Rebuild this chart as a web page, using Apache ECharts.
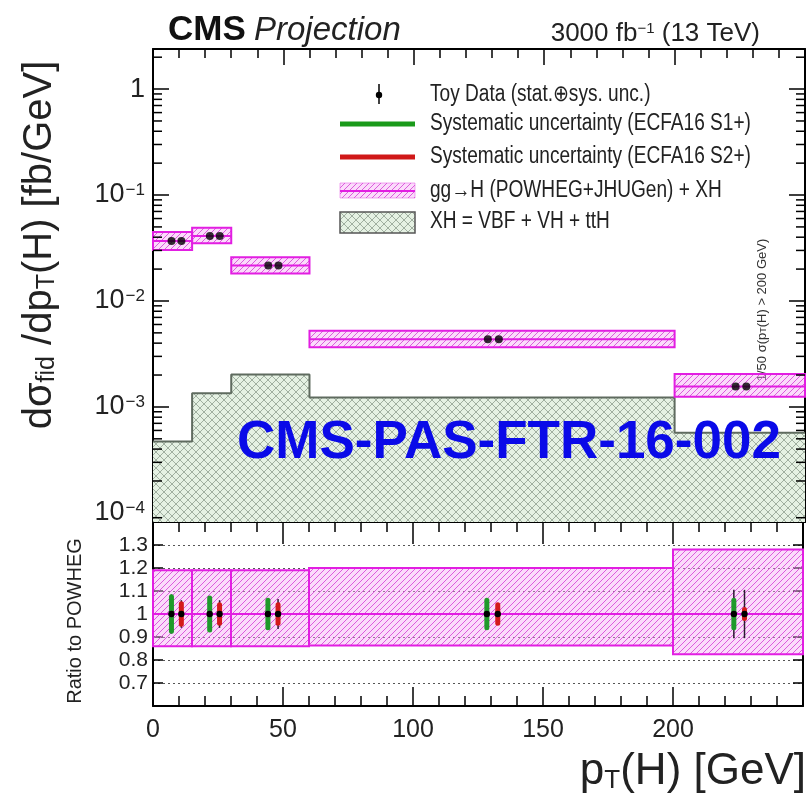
<!DOCTYPE html>
<html><head><meta charset="utf-8">
<script src="https://cdn.jsdelivr.net/npm/echarts@6/dist/echarts.min.js"></script>
<style>html,body{margin:0;padding:0;background:#fff}#c{width:806px;height:801px}</style>
</head><body><div id="c"></div>
<script>
// ---------------- data ----------------
const binEdges   = [0, 15, 30, 60, 200, 250];
const predCentral = [0.0368, 0.0410, 0.0216, 0.00435, 0.00156];
const predUp      = [0.0448, 0.0492, 0.0258, 0.00525, 0.00205];
const predDown    = [0.0303, 0.0350, 0.0182, 0.00366, 0.00125];
const xhValues    = [0.000471, 0.001346, 0.00202, 0.001227, 0.000572];
const s1X = [7.1, 21.8, 44.2, 128.4, 223.4];
const s2X = [10.9, 25.6, 48.1, 132.6, 227.5];
const toyTopS1 = [0.0368, 0.0410, 0.0216, 0.00435, 0.00156];
const toyTopS2 = [0.0368, 0.0410, 0.0216, 0.00435, 0.00156];
const ratioUp   = [1.19, 1.19, 1.19, 1.20, 1.28];
const ratioDown = [0.86, 0.86, 0.86, 0.863, 0.825];
const toyRatioS1 = [1, 1, 1, 1, 1];
const toyRatioS2 = [1, 1, 1, 1, 1];
const s1TotErr = [0.085, 0.075, 0.07, 0.055, 0.105];
const s1SysErr = [0.075, 0.07, 0.06, 0.06, 0.06];
const s2TotErr = [0.06, 0.06, 0.065, 0.045, 0.105];
const s2SysErr = [0.045, 0.04, 0.04, 0.04, 0.02];
const legendLabels = ['Toy Data (stat.\u2295sys. unc.)', 'Systematic uncertainty (ECFA16 S1+)', 'Systematic uncertainty (ECFA16 S2+)', 'gg\u2192H (POWHEG+JHUGen) + XH', 'XH = VBF + VH + ttH'];

// ---------------- styles ----------------
const MAG = '#e21ee2';
function makePattern(bg, line, size, cross, lw) {
  const c = document.createElement('canvas'); c.width = c.height = size;
  const g = c.getContext('2d');
  g.fillStyle = bg; g.fillRect(0, 0, size, size);
  g.strokeStyle = line; g.lineWidth = lw;
  g.beginPath();
  g.moveTo(-1, size + 1); g.lineTo(size + 1, -1);
  g.moveTo(-2, 2); g.lineTo(2, -2);
  g.moveTo(size - 2, size + 2); g.lineTo(size + 2, size - 2);
  if (cross) {
    g.moveTo(-1, -1); g.lineTo(size + 1, size + 1);
    g.moveTo(size - 2, -2); g.lineTo(size + 2, 2);
    g.moveTo(-2, size - 2); g.lineTo(2, size + 2);
  }
  g.stroke();
  return c;
}
const magPat = {image: makePattern('rgba(246,170,246,0.42)', 'rgba(215,70,215,0.85)', 6, false, 1), repeat: 'repeat'};
const xhPat = {image: makePattern('#e5f1e3', '#a0afa0', 8, true, 1), repeat: 'repeat'};

const FONT = "'Liberation Sans', Arial, sans-serif";

const chart = echarts.init(document.getElementById('c'), null, {renderer: 'canvas'});

function xAx(grid, pos, labels, tickLen, minorLen) {
  return {
    type: 'value', gridIndex: grid, position: pos, min: 0, max: 250, interval: 50,
    axisLine: {show: true, onZero: false, lineStyle: {color: '#000', width: 2}},
    axisTick: {show: true, inside: true, length: tickLen, lineStyle: {color: '#000', width: 1.5}},
    minorTick: {show: true, splitNumber: 5, length: minorLen, lineStyle: {color: '#000', width: 1.5}},
    splitLine: {show: false},
    axisLabel: {show: labels, margin: 12, fontSize: 25, color: '#222', fontFamily: FONT,
      formatter: v => (v >= 250 ? '' : String(v))}
  };
}
const logLabel = v => {
  const l = Math.log10(v), n = Math.round(l);
  if (Math.abs(l - n) > 1e-6) return '';
  if (n === 0) return '1';
  return '10{sup|\u2212' + (-n) + '}';
};
function yLog(pos, labels) {
  return {
    type: 'log', logBase: 10, gridIndex: 0, position: pos, min: 8.2e-5, max: 2.39,
    axisLine: {show: true, onZero: false, lineStyle: {color: '#000', width: 2}},
    axisTick: {show: true, inside: true, length: 16, lineStyle: {color: '#000', width: 1.5}},
    splitLine: {show: false},
    axisLabel: {show: labels, margin: 8, fontSize: 27, color: '#222', fontFamily: FONT, formatter: logLabel,
      rich: {sup: {fontSize: 17, verticalAlign: 'top', color: '#222', fontFamily: FONT, padding: [0, 0, 0, 1]}}}
  };
}
function yRatio(pos, labels) {
  return {
    type: 'value', gridIndex: 1, position: pos, min: 0.6, max: 1.4, interval: 0.1,
    axisLine: {show: true, onZero: false, lineStyle: {color: '#000', width: 2}},
    axisTick: {show: true, inside: true, length: 10, lineStyle: {color: '#000', width: 1.5}},
    splitLine: {show: labels, lineStyle: {color: '#555', type: [2, 3], width: 1}},
    axisLabel: {show: labels, margin: 5, fontSize: 21, color: '#222', fontFamily: FONT,
      formatter: v => (v < 0.65 || v > 1.35) ? '' : (Math.abs(v - 1) < 1e-6 ? '1' : v.toFixed(1))}
  };
}

function boxSeries(xi, yi, up, down, central) {
  return {
    type: 'custom', xAxisIndex: xi, yAxisIndex: yi, z: 3,
    data: central.map((c, i) => [binEdges[i], binEdges[i + 1], down[i], up[i], c]),
    encode: {x: [0, 1], y: [2, 3]},
    renderItem: (params, api) => {
      const p0 = api.coord([api.value(0), api.value(3)]);
      const p1 = api.coord([api.value(1), api.value(2)]);
      const pc = api.coord([api.value(0), api.value(4)]);
      return {type: 'group', children: [
        {type: 'rect', shape: {x: p0[0], y: p0[1], width: p1[0] - p0[0], height: p1[1] - p0[1]},
          style: {fill: magPat, stroke: MAG, lineWidth: 2}},
        {type: 'line', shape: {x1: p0[0], y1: pc[1], x2: p1[0], y2: pc[1]}, style: {stroke: MAG, lineWidth: 2}}
      ]};
    }
  };
}
function errSeries(xs, ys, tot, sys, color) {
  return {
    type: 'custom', xAxisIndex: 2, yAxisIndex: 2, z: 5,
    data: xs.map((x, i) => [x, ys[i], tot[i], sys[i]]),
    encode: {x: 0, y: 1},
    renderItem: (params, api) => {
      const x = api.value(0), y = api.value(1), t = api.value(2), s = api.value(3);
      const c = api.coord([x, y]);
      const tHi = api.coord([x, y + t]), tLo = api.coord([x, y - t]);
      const sHi = api.coord([x, y + s]), sLo = api.coord([x, y - s]);
      return {type: 'group', children: [
        {type: 'line', shape: {x1: c[0], y1: tHi[1], x2: c[0], y2: tLo[1]}, style: {stroke: '#2a1830', lineWidth: 1.5}},
        {type: 'line', shape: {x1: c[0], y1: sHi[1], x2: c[0], y2: sLo[1]}, style: {stroke: color, lineWidth: 5, lineCap: 'round'}},
        {type: 'circle', shape: {cx: c[0], cy: c[1], r: 3.2}, style: {fill: '#000'}}
      ]};
    }
  };
}
// minor ticks of the log axis (2..9 x 10^n), drawn through the axis scale
const logMinorSeries = {
  type: 'custom', xAxisIndex: 0, yAxisIndex: 0, z: 6, silent: true,
  data: [[0, 1]],
  renderItem: (params, api) => {
    const kids = [];
    for (let n = -5; n <= 0; n++) {
      for (let k = 2; k <= 9; k++) {
        const v = k * Math.pow(10, n);
        if (v < 8.2e-5 || v > 2.39) continue;
        const pl = api.coord([0, v]), pr = api.coord([250, v]);
        kids.push({type: 'line', shape: {x1: pl[0], y1: pl[1], x2: pl[0] + 9, y2: pl[1]}, style: {stroke: '#000', lineWidth: 1.5}});
        kids.push({type: 'line', shape: {x1: pr[0], y1: pr[1], x2: pr[0] - 9, y2: pr[1]}, style: {stroke: '#000', lineWidth: 1.5}});
      }
    }
    return {type: 'group', children: kids};
  }
};

const xhData = binEdges.map((e, i) => [e, xhValues[Math.min(i, xhValues.length - 1)]]);

// legend (drawn as graphic)
const LX = 340, LW = 75, TX = 430;
const legY = [95, 124, 157, 191, 222];
const legendGraphics = [
  {type: 'line', shape: {x1: 379, y1: 84, x2: 379, y2: 104}, style: {stroke: '#000', lineWidth: 1.5}},
  {type: 'circle', shape: {cx: 379, cy: legY[0], r: 3.2}, style: {fill: '#000'}},
  {type: 'line', shape: {x1: LX, y1: legY[1], x2: LX + LW, y2: legY[1]}, style: {stroke: '#1a9a1a', lineWidth: 5}},
  {type: 'line', shape: {x1: LX, y1: legY[2], x2: LX + LW, y2: legY[2]}, style: {stroke: '#d01818', lineWidth: 5}},
  {type: 'rect', shape: {x: LX, y: legY[3] - 8, width: LW, height: 15}, style: {fill: magPat, stroke: 'rgba(230,80,230,0.5)', lineWidth: 1}},
  {type: 'line', shape: {x1: LX, y1: legY[3], x2: LX + LW, y2: legY[3]}, style: {stroke: MAG, lineWidth: 2}},
  {type: 'rect', shape: {x: LX, y: legY[4] - 10, width: LW, height: 21}, style: {fill: xhPat, stroke: '#555', lineWidth: 1.5}}
].concat(legendLabels.map((t, i) => ({
  type: 'text', x: TX, y: legY[i], scaleX: 0.83,
  style: {text: t, fontSize: 23, fontFamily: FONT, fill: '#222', textVerticalAlign: 'middle'}
})));

chart.setOption({
  animation: false,
  backgroundColor: '#fff',
  textStyle: {fontFamily: FONT},
  grid: [
    {left: 153, right: 1, top: 49, height: 473},
    {left: 153, right: 1, top: 522, height: 184}
  ],
  xAxis: [
    xAx(0, 'bottom', false, 15, 8),
    xAx(0, 'top', false, 16, 9),
    xAx(1, 'bottom', true, 19, 10),
    xAx(1, 'top', false, 22, 10)
  ],
  yAxis: [
    yLog('left', true),
    yLog('right', false),
    yRatio('left', true),
    yRatio('right', false)
  ],
  series: [
    {type: 'line', xAxisIndex: 0, yAxisIndex: 0, step: 'end', data: xhData, showSymbol: false, z: 2,
      lineStyle: {color: '#5f6b5f', width: 2}, areaStyle: {color: xhPat, opacity: 1, origin: 'start'}},
    boxSeries(0, 0, predUp, predDown, predCentral),
    {type: 'scatter', xAxisIndex: 0, yAxisIndex: 0, z: 5, symbolSize: 8, itemStyle: {color: '#000'},
      data: s1X.map((x, i) => [x, toyTopS1[i]])},
    {type: 'scatter', xAxisIndex: 0, yAxisIndex: 0, z: 5, symbolSize: 8, itemStyle: {color: '#000'},
      data: s2X.map((x, i) => [x, toyTopS2[i]])},
    logMinorSeries,
    boxSeries(2, 2, ratioUp, ratioDown, [1, 1, 1, 1, 1]),
    errSeries(s1X, toyRatioS1, s1TotErr, s1SysErr, '#1f9a2a'),
    errSeries(s2X, toyRatioS2, s2TotErr, s2SysErr, '#d41a1a')
  ],
  graphic: [
    {type: 'text', x: 168, y: 30, style: {text: 'CMS', fontSize: 35, fontWeight: 'bold', fontFamily: FONT, fill: '#111', textVerticalAlign: 'middle'}},
    {type: 'text', x: 254, y: 31, style: {text: 'Projection', fontSize: 33, fontStyle: 'italic', fontFamily: FONT, fill: '#222', textVerticalAlign: 'middle'}},
    {type: 'text', x: 760, y: 34, style: {text: '3000 fb{sup|\u22121} (13 TeV)', fontSize: 26, fontFamily: FONT, fill: '#222', textAlign: 'right', textVerticalAlign: 'middle',
      rich: {sup: {fontSize: 15, verticalAlign: 'top', fontFamily: FONT, fill: '#222'}}}},
    {type: 'text', x: 40, y: 245, rotation: Math.PI / 2, style: {text: 'd\u03c3{sub|fid} /dp{sub|T}(H) [fb/GeV]', fontSize: 40, fontFamily: FONT, fill: '#222', textAlign: 'center', textVerticalAlign: 'middle',
      rich: {sub: {fontSize: 25, verticalAlign: 'bottom', fontFamily: FONT, fill: '#222'}}}},
    {type: 'text', x: 75, y: 621, rotation: Math.PI / 2, style: {text: 'Ratio to POWHEG', fontSize: 20, fontFamily: FONT, fill: '#222', textAlign: 'center', textVerticalAlign: 'middle'}},
    {type: 'text', x: 806, y: 772, style: {text: 'p{sub|T}(H) [GeV]', fontSize: 44, fontFamily: FONT, fill: '#222', textAlign: 'right', textVerticalAlign: 'middle',
      rich: {sub: {fontSize: 26, verticalAlign: 'bottom', fontFamily: FONT, fill: '#222'}}}},
    {type: 'text', x: 762, y: 310, rotation: Math.PI / 2, style: {text: '1/50 \u03c3(p{sub|T}(H) > 200 GeV)', fontSize: 13, fontFamily: FONT, fill: '#333', textAlign: 'center', textVerticalAlign: 'middle',
      rich: {sub: {fontSize: 9, verticalAlign: 'bottom', fontFamily: FONT, fill: '#333'}}}},
    {type: 'text', x: 509, y: 443, z: 100, style: {text: 'CMS-PAS-FTR-16-002', fontSize: 53, fontWeight: 'bold', fontFamily: FONT, fill: '#0a0ae8', textAlign: 'center', textVerticalAlign: 'middle'}}
  ].concat(legendGraphics)
});
</script></body></html>
